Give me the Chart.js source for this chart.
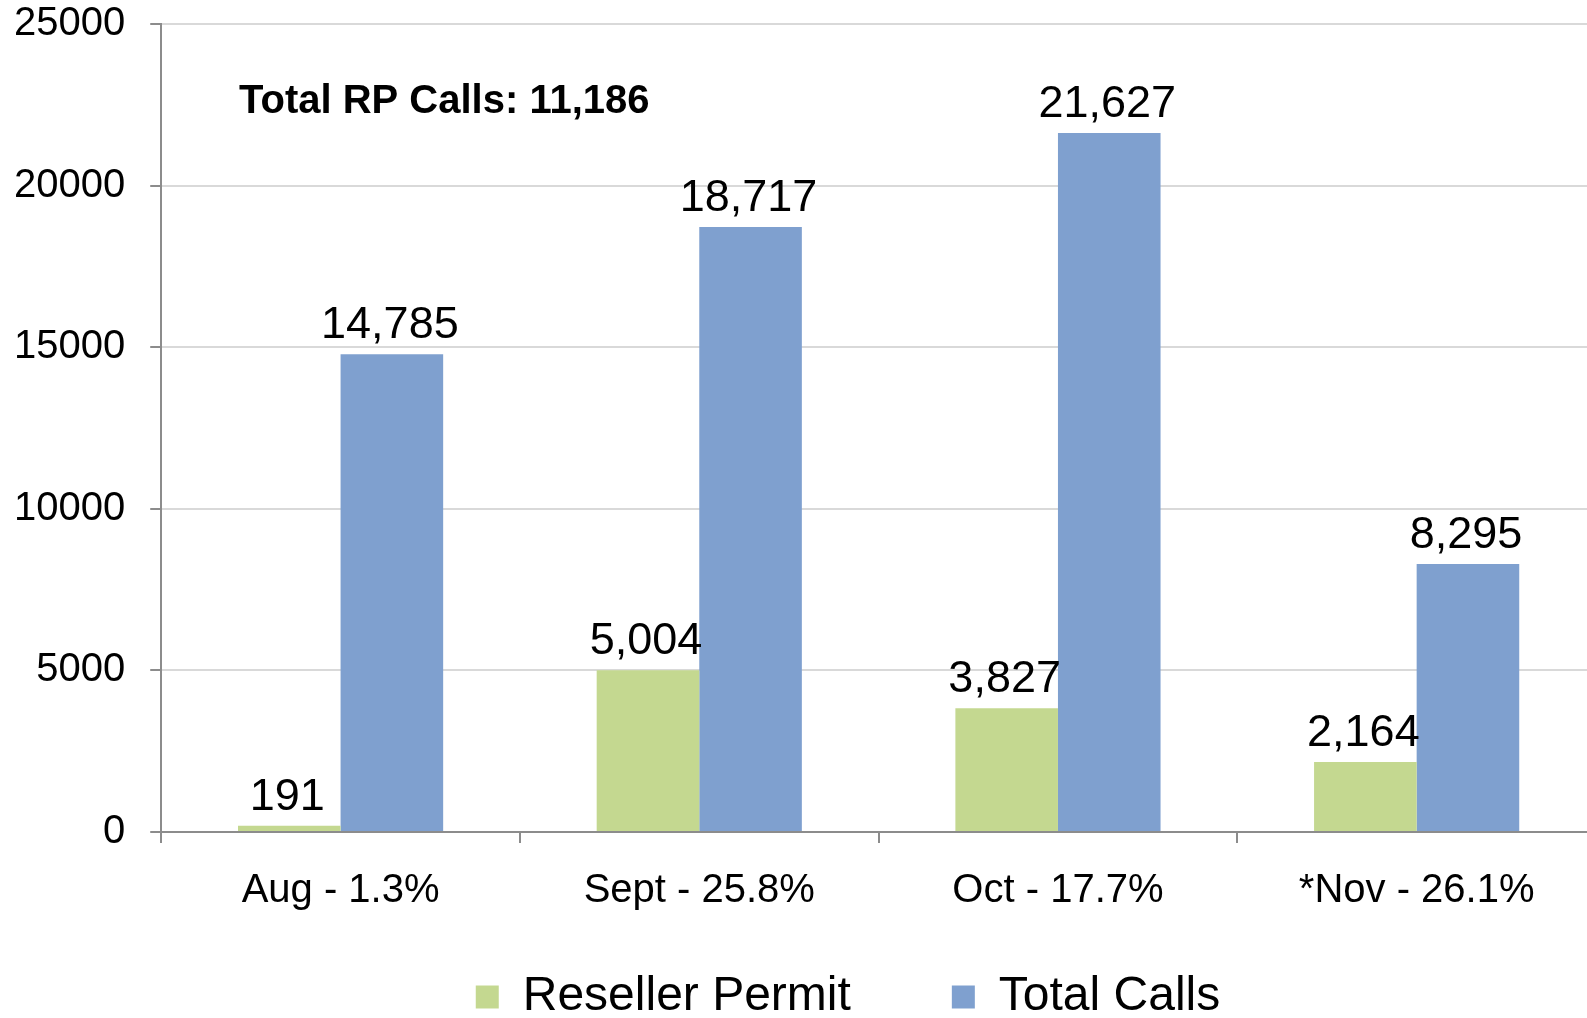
<!DOCTYPE html>
<html>
<head>
<meta charset="utf-8">
<script src="https://cdn.jsdelivr.net/npm/chart.js@4"></script>
<style>
  html, body { margin: 0; padding: 0; background: #fff; overflow: hidden; }
  #myChart { display: block; }
</style>
</head>
<body>
<canvas id="myChart" width="1600" height="1031"></canvas>
<script>
// DONNEES
const months = ['Aug - 1.3%', 'Sept - 25.8%', 'Oct - 17.7%', '*Nov - 26.1%'];
const resellerPermit = [191, 5004, 3827, 2164];
const totalCalls = [14785, 18717, 21627, 8295];
const yTicks = [0, 5000, 10000, 15000, 20000, 25000];
const totalRP = 'Total RP Calls: 11,186';

const FONT = "'Liberation Sans', Arial, sans-serif";

// valeurs au-dessus des barres + texte du total
const valueLabels = {
    id: 'valueLabels',
    afterDatasetsDraw(chart) {
        const ctx = chart.ctx;
        ctx.save();
        ctx.fillStyle = '#000';
        ctx.font = '45px ' + FONT;
        ctx.textAlign = 'center';
        ctx.textBaseline = 'alphabetic';
        chart.data.datasets.forEach((ds, i) => {
            chart.getDatasetMeta(i).data.forEach((bar, j) => {
                ctx.fillText(ds.data[j].toLocaleString('en-US'), bar.x - 2, bar.y - 16);
            });
        });
        ctx.font = 'bold 40px ' + FONT;
        ctx.textAlign = 'left';
        ctx.fillText(totalRP, 239, 113);
        ctx.restore();
    }
};

// legende : gros espace entre les items mais pas au-dessus
const legendShift = {
    id: 'legendShift',
    afterInit(chart) {
        const lg = chart.legend;
        const fit = lg.fit, drawItems = lg._draw;
        lg.fit = function () { fit.call(this); this.height -= 91; };
        lg._draw = function () {
            this.ctx.save();
            this.ctx.translate(43, -91);
            drawItems.call(this);
            this.ctx.restore();
        };
    }
};

const data = {
    labels: months,
    datasets: [{
        label: 'Reseller Permit',
        data: resellerPermit,
        backgroundColor: '#c4d890',
        borderWidth: 0
    }, {
        label: 'Total Calls',
        data: totalCalls,
        backgroundColor: '#7fa0cf',
        borderWidth: 0
    }]
};

const config = {
    type: 'bar',
    data: data,
    options: {
        responsive: false,
        animation: false,
        layout: { padding: { left: 14, right: 4, top: 0, bottom: 0 } },
        datasets: { bar: { categoryPercentage: 0.572, barPercentage: 1 } },
        scales: {
            x: {
                grid: { drawOnChartArea: false, drawTicks: true, tickLength: 11, tickColor: '#8c8c8c', lineWidth: 2, offset: true },
                border: { color: '#8c8c8c', width: 2 },
                ticks: { color: '#000', font: { family: FONT, size: 40 }, padding: 24 },
                afterFit: s => { s.height += 24; }
            },
            y: {
                min: 0,
                max: 25000,
                afterBuildTicks: s => { s.ticks = yTicks.map(v => ({ value: v })); },
                grid: { color: '#d9d9d9', lineWidth: 2, tickLength: 36, tickColor: '#8c8c8c', tickBorderDash: [0, 25, 11, 100] },
                border: { color: '#8c8c8c', width: 2 },
                ticks: { color: '#000', font: { family: FONT, size: 40 }, padding: 0, callback: v => String(v) }
            }
        },
        plugins: {
            legend: {
                position: 'bottom',
                labels: {
                    color: '#000',
                    font: { family: FONT, size: 48 },
                    boxWidth: 23,
                    boxHeight: 23,
                    padding: 101
                }
            },
            tooltip: { enabled: false }
        }
    },
    plugins: [valueLabels, legendShift]
};

const myChart = new Chart(document.getElementById('myChart'), config);
</script>
</body>
</html>
